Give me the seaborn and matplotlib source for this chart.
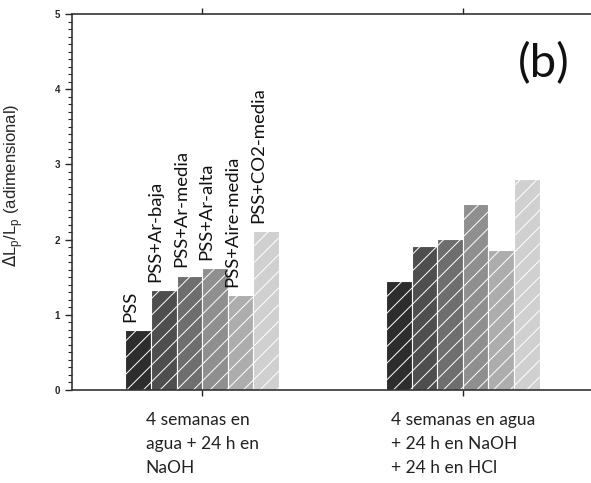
"""Grouped bar chart (b): relative change of Lp after the two treatments."""
import matplotlib
matplotlib.use("Agg")
import matplotlib.pyplot as plt
from matplotlib.ticker import MultipleLocator
import pandas as pd
import seaborn as sns

# data
groups = [
    "4 semanas en\nagua + 24 h en\nNaOH",
    "4 semanas en agua\n+ 24 h en NaOH\n+ 24 h en HCl",
]
treatments = ["PSS", "PSS+Ar-baja", "PSS+Ar-media", "PSS+Ar-alta",
              "PSS+Aire-media", "PSS+CO2-media"]
values_naoh = [0.80, 1.33, 1.52, 1.62, 1.26, 2.11]
values_hcl = [1.45, 1.91, 2.01, 2.47, 1.86, 2.80]
bar_colors = ["#2d2d2d", "#4e4e4e", "#6e6e6e", "#8f8f8f", "#adadad", "#d0d0d0"]

df = pd.DataFrame({
    "grupo": [groups[0]] * len(treatments) + [groups[1]] * len(treatments),
    "tratamiento": treatments * 2,
    "valor": values_naoh + values_hcl,
})

sns.set_style("ticks")
plt.rcParams["hatch.color"] = "white"
plt.rcParams["hatch.linewidth"] = 0.7

fig = plt.figure(figsize=(5.91, 4.83), dpi=100)
ax = fig.add_axes([72 / 591, 93 / 483, 521 / 591, 376 / 483])

sns.barplot(data=df, x="grupo", y="valor", hue="tratamiento", order=groups,
            hue_order=treatments, palette=bar_colors, width=0.59, gap=0,
            edgecolor="white", linewidth=0.8, legend=False, ax=ax)

for p in ax.patches:
    p.set_hatch("//")

# rotated treatment names above the first group
for cont, name in zip(ax.containers, treatments):
    bar = cont[0]
    ax.annotate(name, (bar.get_x() + bar.get_width() / 2, bar.get_height()),
                xytext=(-6, 6), textcoords="offset points", rotation=90,
                ha="center", va="bottom", fontsize=13.3, family="Lato",
                color="#111111")

ax.text(1.31, 4.34, "(b)", fontsize=34, family="Lato", ha="center",
        va="center", color="#111111")

ax.set_xlim(-0.5, 1.5)
ax.set_ylim(0, 5)
ax.yaxis.set_major_locator(MultipleLocator(1))
ax.yaxis.set_minor_locator(MultipleLocator(0.1))
ax.tick_params(axis="y", which="major", length=5, width=1, labelsize=7)
ax.tick_params(axis="y", which="minor", length=3, width=0.8)
ax.tick_params(axis="x", which="major", length=4, width=1, top=True,
               labelsize=12.5, pad=12, colors="#222222")
for lbl in ax.get_yticklabels():
    lbl.set_fontweight("bold")
    lbl.set_family("Liberation Sans")
for lbl in ax.get_xticklabels():
    lbl.set_family("Lato")
    lbl.set_multialignment("left")
    lbl.set_linespacing(1.6)

ax.set_xlabel("")
ax.set_ylabel(r"$\Delta$L$_\mathregular{p}$/L$_\mathregular{p}$ (adimensional)",
              fontsize=12, family="Liberation Sans")
ax.yaxis.set_label_coords(-0.09, 0.545)

for side in ["left", "bottom", "top"]:
    ax.spines[side].set_visible(True)
    ax.spines[side].set_linewidth(1.2)
    ax.spines[side].set_color("#333333")
ax.spines["right"].set_visible(False)

fig.savefig("out.png", dpi=100)
